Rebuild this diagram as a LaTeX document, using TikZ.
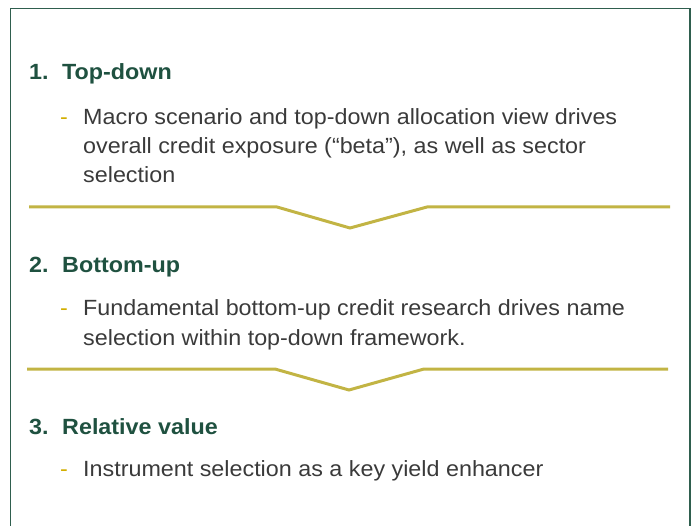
\documentclass[tikz,border=0pt]{standalone}
\usepackage{fontspec}
\setmainfont[FakeStretch=1.06]{Liberation Sans}
\definecolor{frame}{HTML}{2F5E4E}
\definecolor{head}{HTML}{1F5140}
\definecolor{body}{HTML}{3A3A3A}
\definecolor{dashc}{HTML}{D2AE00}
\definecolor{sep}{HTML}{C2B444}
\begin{document}
\begin{tikzpicture}[x=1pt,y=-1pt,
  headtext/.style={anchor=base west,inner sep=0pt,font=\fontsize{22}{26}\selectfont\bfseries,text=head},
  bodytext/.style={anchor=base west,inner sep=0pt,font=\fontsize{22}{26}\selectfont,text=body},
  bullet/.style={anchor=base west,inner sep=0pt,font=\fontsize{22}{26}\selectfont,text=dashc},
  sepline/.style={draw=sep,line width=3pt,line join=miter}]
\useasboundingbox (0,0) rectangle (693,526);
\draw[frame,line width=1.5pt] (10.5,526) -- (10.5,8.5) -- (690,8.5) -- (690,526);
% section 1
\node[headtext] (n1) at (29,80) {1.};
\node[headtext] (h1) at (62,80) {Top-down};
\node[bullet] (d1) at (60,125) {-};
\node[bodytext] (b1a) at (83,125) {Macro scenario and top-down allocation view drives};
\node[bodytext] (b1b) at (83,154) {overall credit exposure (“beta”), as well as sector};
\node[bodytext] (b1c) at (83,183) {selection};
% separator 1
\coordinate (s1a) at (29,207);
\coordinate (s1b) at (277,207);
\coordinate (s1c) at (350,228);
\coordinate (s1d) at (427,207);
\coordinate (s1e) at (670,207);
\draw[sepline] (s1a) -- (s1b) -- (s1c) -- (s1d) -- (s1e);
% section 2
\node[headtext] (n2) at (29,273) {2.};
\node[headtext] (h2) at (62,273) {Bottom-up};
\node[bullet] (d2) at (60,316) {-};
\node[bodytext] (b2a) at (83,316) {Fundamental bottom-up credit research drives name};
\node[bodytext] (b2b) at (83,345) {selection within top-down framework.};
% separator 2
\coordinate (s2a) at (27,369);
\coordinate (s2b) at (275,369);
\coordinate (s2c) at (349,390);
\coordinate (s2d) at (424,369);
\coordinate (s2e) at (668,369);
\draw[sepline] (s2a) -- (s2b) -- (s2c) -- (s2d) -- (s2e);
% section 3
\node[headtext] (n3) at (29,434) {3.};
\node[headtext] (h3) at (62,434) {Relative value};
\node[bullet] (d3) at (60,476) {-};
\node[bodytext] (b3) at (83,476) {Instrument selection as a key yield enhancer};
\end{tikzpicture}
\end{document}
